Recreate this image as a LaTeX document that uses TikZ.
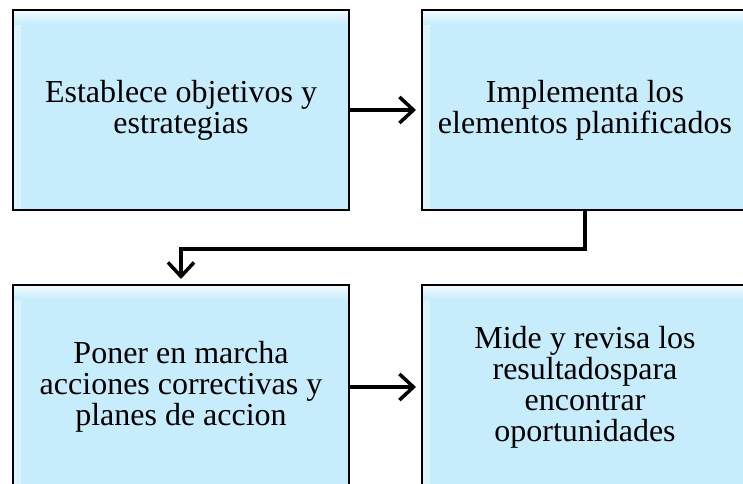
\documentclass[tikz,border=0pt]{standalone}
\usepackage{fontspec}
\setmainfont{Liberation Serif}
\usepackage{tikz}
\usetikzlibrary{positioning, arrows.meta}
\definecolor{boxblue}{RGB}{199,236,252}

\begin{document}
\begin{tikzpicture}[x=1pt, y=-1pt,
        stepbox/.style={draw=black, line width=2pt, fill=boxblue, align=center, inner sep=0pt,
            font=\fontsize{32}{31}\selectfont,
            path picture={
                \shade[left color=white!35!boxblue, right color=boxblue] (path picture bounding box.north west) rectangle ([xshift=8pt]path picture bounding box.south west);
                \shade[top color=white!80!boxblue, bottom color=boxblue] (path picture bounding box.north west) rectangle ([yshift=-14pt]path picture bounding box.north east);
            }},
        flow/.style={line width=3.5pt, -{Straight Barb[length=14pt, width=26pt]}, shorten >=5pt}]
        \useasboundingbox (0,0) rectangle (743,483);
        % the four boxes
        \node[stepbox, minimum width=336pt, minimum height=200pt] (objetivos) at (181,110) {Establece objetivos y\\estrategias};
        \node[stepbox, minimum width=326pt, minimum height=200pt] (implementa) at (585,110) {Implementa los\\elementos planificados};
        \node[stepbox, minimum width=336pt, minimum height=204pt] (acciones) at (181,387) {Poner en marcha\\acciones correctivas y\\planes de accion};
        \node[stepbox, minimum width=326pt, minimum height=204pt] (mide) at (585,387) {Mide y revisa los\\resultadospara\\encontrar\\oportunidades};

        % arrows
        \draw[flow] (objetivos) -- (implementa);
        \draw[flow] (acciones) -- (mide);
        \draw[flow] (implementa.south) -- ++(0,38) -| (acciones.north);
    \end{tikzpicture}
\end{document}
